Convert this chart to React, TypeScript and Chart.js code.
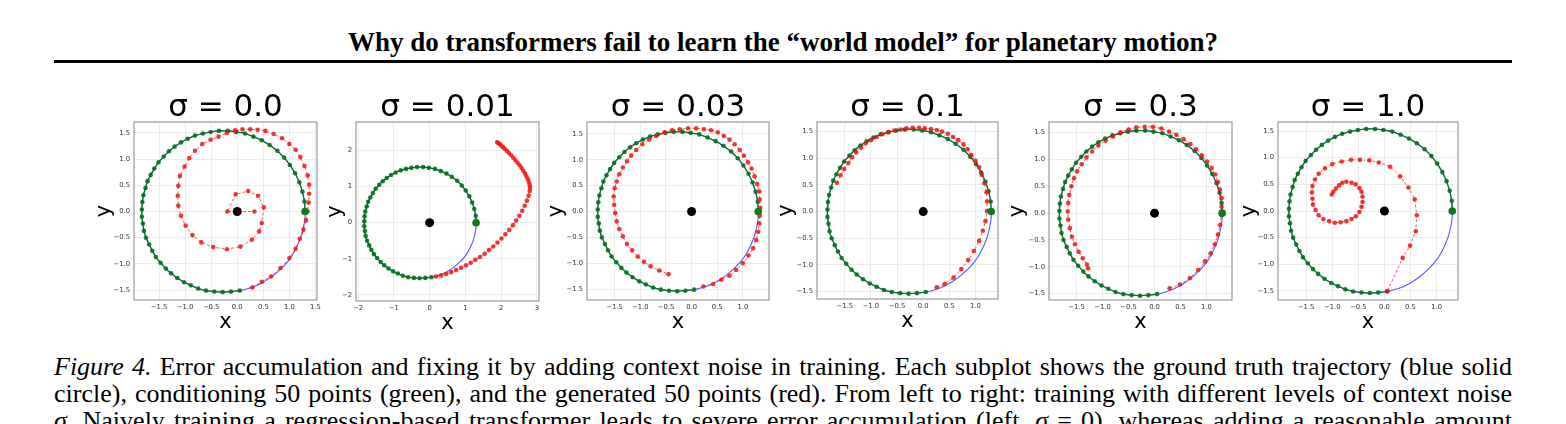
import React, { useEffect, useRef } from 'react';
import Chart from 'chart.js/auto';

type Pt = [number, number];

const sigmaLabels = ['0.0', '0.01', '0.03', '0.1', '0.3', '1.0'];

// conditioning 50 points (green)
const conditioning: Pt[] = [
  [1.30, 0.00], [1.29, 0.19], [1.25, 0.38], [1.19, 0.56], [1.11, 0.73], [1.01, 0.89], [0.90, 1.03], [0.77, 1.16], [0.62, 1.27], [0.47, 1.36],
  [0.31, 1.43], [0.15, 1.49], [-0.02, 1.52], [-0.18, 1.54], [-0.35, 1.54], [-0.51, 1.52], [-0.66, 1.49], [-0.81, 1.45], [-0.95, 1.39], [-1.08, 1.32],
  [-1.20, 1.24], [-1.31, 1.15], [-1.41, 1.05], [-1.51, 0.94], [-1.59, 0.82], [-1.66, 0.70], [-1.72, 0.58], [-1.76, 0.45], [-1.80, 0.31], [-1.82, 0.18],
  [-1.83, 0.04], [-1.83, -0.10], [-1.81, -0.23], [-1.79, -0.37], [-1.75, -0.50], [-1.69, -0.63], [-1.63, -0.75], [-1.56, -0.87], [-1.47, -0.98], [-1.37, -1.09],
  [-1.27, -1.18], [-1.15, -1.27], [-1.02, -1.35], [-0.89, -1.41], [-0.75, -1.47], [-0.60, -1.51], [-0.44, -1.53], [-0.28, -1.54], [-0.12, -1.53], [0.05, -1.51],
];

// the rest of the true orbit (blue), from the last conditioning point back to the start
const truthTail: Pt[] = [
  [0.21, -1.47], [0.38, -1.41], [0.53, -1.33], [0.68, -1.23], [0.82, -1.11], [0.95, -0.98],
  [1.06, -0.83], [1.15, -0.66], [1.22, -0.49], [1.27, -0.30], [1.30, -0.11],
];

const sun: Pt[] = [[0, 0]];

// generated 50 points (red), one list per sigma
const genSigma0: Pt[] = [
  [0.29, -1.45], [0.47, -1.34], [0.65, -1.24], [0.83, -1.08], [1.00, -0.89], [1.12, -0.71], [1.20, -0.52], [1.27, -0.35], [1.32, -0.17], [1.35, 0.00],
  [1.37, 0.17], [1.38, 0.34], [1.38, 0.51], [1.35, 0.69], [1.29, 0.87], [1.21, 1.04], [1.12, 1.18], [1.00, 1.29], [0.86, 1.40], [0.70, 1.48],
  [0.54, 1.54], [0.39, 1.56], [0.25, 1.57], [0.10, 1.57], [-0.04, 1.55], [-0.20, 1.50], [-0.36, 1.43], [-0.51, 1.37], [-0.67, 1.29], [-0.81, 1.16],
  [-0.92, 1.02], [-1.01, 0.86], [-1.10, 0.68], [-1.13, 0.49], [-1.14, 0.30], [-1.13, 0.11], [-1.08, -0.08], [-0.99, -0.27], [-0.86, -0.45], [-0.69, -0.59],
  [-0.46, -0.68], [-0.20, -0.72], [0.06, -0.67], [0.28, -0.54], [0.42, -0.38], [0.47, -0.22], [0.51, 0.08], [0.40, 0.30], [0.21, 0.39], [-0.03, 0.33],
  [-0.19, 0.00], [0.33, 0.00],
];

const genSigma001: Pt[] = [
  [0.18, -1.49], [0.32, -1.46], [0.46, -1.42], [0.60, -1.37], [0.74, -1.31], [0.88, -1.25], [1.02, -1.18], [1.15, -1.11], [1.28, -1.03], [1.41, -0.95],
  [1.54, -0.86], [1.66, -0.76], [1.78, -0.66], [1.90, -0.55], [2.01, -0.44], [2.12, -0.32], [2.23, -0.20], [2.33, -0.07], [2.42, 0.06], [2.51, 0.19],
  [2.59, 0.33], [2.66, 0.47], [2.72, 0.61], [2.77, 0.75], [2.80, 0.88], [2.81, 0.96], [2.80, 1.04], [2.78, 1.12], [2.75, 1.20], [2.71, 1.28],
  [2.67, 1.36], [2.62, 1.44], [2.57, 1.52], [2.52, 1.59], [2.46, 1.66], [2.40, 1.73], [2.34, 1.80], [2.28, 1.87], [2.22, 1.93], [2.16, 1.99],
  [2.10, 2.05], [2.05, 2.10], [2.00, 2.14], [1.96, 2.18], [1.92, 2.21], [1.89, 2.23],
];

const genSigma003: Pt[] = [
  [0.23, -1.45], [0.42, -1.40], [0.58, -1.32], [0.74, -1.24], [0.87, -1.13], [1.00, -1.00], [1.11, -0.85], [1.20, -0.71], [1.26, -0.55], [1.30, -0.39],
  [1.32, -0.23], [1.33, -0.08], [1.34, 0.07], [1.33, 0.23], [1.32, 0.39], [1.28, 0.53], [1.23, 0.68], [1.17, 0.83], [1.10, 0.95], [1.02, 1.08],
  [0.94, 1.19], [0.84, 1.30], [0.74, 1.39], [0.63, 1.46], [0.51, 1.53], [0.38, 1.57], [0.24, 1.59], [0.09, 1.61], [-0.07, 1.61], [-0.23, 1.59],
  [-0.38, 1.57], [-0.53, 1.53], [-0.69, 1.46], [-0.83, 1.39], [-0.96, 1.30], [-1.08, 1.19], [-1.18, 1.08], [-1.26, 0.97], [-1.34, 0.85], [-1.41, 0.72],
  [-1.46, 0.58], [-1.50, 0.45], [-1.52, 0.29], [-1.51, 0.13], [-1.49, -0.03], [-1.46, -0.19], [-1.41, -0.34], [-1.34, -0.48], [-1.26, -0.63], [-1.16, -0.75],
  [-1.05, -0.87], [-0.93, -0.97], [-0.80, -1.06], [-0.63, -1.14], [-0.45, -1.21],
];

const genSigma01: Pt[] = [
  [0.26, -1.42], [0.41, -1.36], [0.58, -1.24], [0.73, -1.08], [0.86, -0.91], [0.97, -0.74], [1.07, -0.55], [1.14, -0.36], [1.19, -0.18], [1.22, 0.01],
  [1.22, 0.19], [1.21, 0.36], [1.17, 0.53], [1.12, 0.69], [1.07, 0.83], [1.00, 0.95], [0.92, 1.06], [0.85, 1.17], [0.77, 1.26], [0.67, 1.34],
  [0.57, 1.40], [0.47, 1.46], [0.36, 1.50], [0.26, 1.53], [0.15, 1.55], [0.03, 1.56], [-0.08, 1.57], [-0.20, 1.57], [-0.32, 1.56], [-0.43, 1.54],
  [-0.55, 1.52], [-0.67, 1.49], [-0.78, 1.45], [-0.89, 1.40], [-1.00, 1.34], [-1.10, 1.28], [-1.19, 1.20], [-1.28, 1.11], [-1.36, 1.02], [-1.43, 0.91],
  [-1.51, 0.80], [-1.58, 0.68], [-1.65, 0.54],
];

const genSigma03: Pt[] = [
  [0.29, -1.40], [0.49, -1.33], [0.68, -1.21], [0.84, -1.06], [0.97, -0.90], [1.08, -0.75], [1.16, -0.58], [1.22, -0.40], [1.26, -0.22], [1.29, -0.04],
  [1.29, 0.12], [1.29, 0.28], [1.26, 0.44], [1.22, 0.58], [1.17, 0.72], [1.10, 0.84], [1.01, 0.96], [0.91, 1.08], [0.80, 1.19], [0.69, 1.29],
  [0.56, 1.38], [0.42, 1.46], [0.28, 1.52], [0.13, 1.58], [-0.03, 1.61], [-0.19, 1.61], [-0.35, 1.60], [-0.50, 1.56], [-0.65, 1.51], [-0.80, 1.43],
  [-0.94, 1.35], [-1.08, 1.26], [-1.20, 1.15], [-1.31, 1.04], [-1.40, 0.91], [-1.49, 0.78], [-1.55, 0.65], [-1.60, 0.50], [-1.64, 0.34], [-1.66, 0.19],
  [-1.67, 0.03], [-1.66, -0.12], [-1.63, -0.28], [-1.59, -0.44], [-1.53, -0.58], [-1.46, -0.72], [-1.38, -0.84], [-1.30, -0.96], [-1.28, -1.03],
];

const genSigma1: Pt[] = [
  [0.06, -1.50], [0.35, -0.88], [0.49, -0.65], [0.60, -0.38], [0.62, -0.08], [0.58, 0.22], [0.46, 0.44], [0.30, 0.65], [0.11, 0.83], [-0.11, 0.91],
  [-0.29, 0.95], [-0.47, 0.96], [-0.64, 0.96], [-0.82, 0.93], [-1.00, 0.88], [-1.14, 0.80], [-1.26, 0.70], [-1.33, 0.59], [-1.38, 0.47], [-1.39, 0.35],
  [-1.38, 0.23], [-1.37, 0.12], [-1.32, 0.02], [-1.26, -0.08], [-1.17, -0.15], [-1.06, -0.19], [-0.95, -0.22], [-0.84, -0.21], [-0.73, -0.19], [-0.63, -0.15],
  [-0.55, -0.10], [-0.48, -0.02], [-0.44, 0.08], [-0.42, 0.17], [-0.42, 0.27], [-0.44, 0.36], [-0.48, 0.43], [-0.55, 0.50], [-0.63, 0.53], [-0.73, 0.55],
  [-0.81, 0.53], [-0.87, 0.48], [-0.93, 0.42], [-0.98, 0.36], [-1.01, 0.31],
];

const generated = [genSigma0, genSigma001, genSigma003, genSigma01, genSigma03, genSigma1];

const ticksHalf = [-1.5, -1.0, -0.5, 0.0, 0.5, 1.0];
const ticksHalfWide = [-1.5, -1.0, -0.5, 0.0, 0.5, 1.0, 1.5];
const ticksUnitX = [-2, -1, 0, 1, 2, 3];
const ticksUnitY = [-2, -1, 0, 1, 2];

// axes box on the page (left, top, right, bottom) and the data limits of each panel
const panels = [
  { box: [134, 122, 317, 300], xlim: [-1.98, 1.53], ylim: [-1.69, 1.71], xt: ticksHalfWide, yt: ticksHalfWide, dec: 1, ylabelGap: 29 },
  { box: [356, 122, 539, 301], xlim: [-2.06, 3.06], ylim: [-2.17, 2.79], xt: ticksUnitX, yt: ticksUnitY, dec: 0, ylabelGap: 20 },
  { box: [587, 122, 769, 300], xlim: [-2.04, 1.51], ylim: [-1.71, 1.73], xt: ticksHalf, yt: ticksHalfWide, dec: 1, ylabelGap: 30 },
  { box: [817, 122, 998, 299], xlim: [-2.03, 1.43], ylim: [-1.64, 1.68], xt: ticksHalf, yt: ticksHalfWide, dec: 1, ylabelGap: 30 },
  { box: [1049, 122, 1232, 300], xlim: [-2.03, 1.49], ylim: [-1.62, 1.70], xt: ticksHalf, yt: ticksHalfWide, dec: 1, ylabelGap: 31 },
  { box: [1278, 122, 1458, 300], xlim: [-2.04, 1.41], ylim: [-1.67, 1.67], xt: ticksHalf, yt: ticksHalfWide, dec: 1, ylabelGap: 28 },
];

const AXIS_W = 50;
const AXIS_H = 40;
const CANVAS_TOP = 80;
const TITLE_SIZE = 31;
const TITLE_LINE = 0.8;

const framePlugin = {
  id: 'frame',
  afterDraw(chart: any) {
    const { ctx, chartArea: a } = chart;
    ctx.save();
    ctx.strokeStyle = '#999';
    ctx.lineWidth = 1.2;
    ctx.strokeRect(a.left, a.top, a.right - a.left, a.bottom - a.top);
    ctx.restore();
  },
};

const OrbitPanel: React.FC<{ index: number }> = ({ index }) => {
  const canvasRef = useRef<HTMLCanvasElement>(null);
  const p = panels[index];
  const [l, t, r, b] = p.box;
  const width = r - l + AXIS_W * 2;
  const height = b - CANVAS_TOP + AXIS_H;

  useEffect(() => {
    if (!canvasRef.current) return;
    const xy = (pts: Pt[]) => pts.map(([x, y]) => ({ x, y }));
    const fmt = (v: any) => Number(v).toFixed(p.dec).replace('-', '\u2212');
    const tickFont = { family: 'DejaVu Sans', size: 6.8 };
    const labelFont = { family: 'DejaVu Sans', size: 21, lineHeight: 1 };
    const grid = { color: '#e6e6e6', lineWidth: 0.8, drawTicks: false };
    const green = 'rgba(0, 112, 22, 0.88)';
    const titleLine = TITLE_SIZE * TITLE_LINE;
    const titleTop = 15.6;

    const chart = new Chart(canvasRef.current, {
      type: 'scatter',
      data: {
        datasets: [
          { data: xy(sun), pointRadius: 4.5, pointBackgroundColor: '#000', pointBorderWidth: 0, order: 0 },
          { data: xy([conditioning[0]]), pointRadius: 3.8, pointBackgroundColor: '#0b7a18', pointBorderWidth: 0, order: 0 },
          {
            data: xy(generated[index]),
            showLine: true,
            borderColor: 'rgba(255, 0, 0, 0.65)',
            borderWidth: 1,
            borderDash: [3, 2],
            pointRadius: 2.3,
            pointBackgroundColor: 'rgba(240, 20, 20, 0.85)',
            pointBorderWidth: 0,
            order: 1,
          },
          {
            data: xy(conditioning),
            showLine: true,
            borderColor: green,
            borderWidth: 1.2,
            pointRadius: 2.3,
            pointBackgroundColor: green,
            pointBorderWidth: 0,
            order: 2,
          },
          {
            data: xy([...conditioning, ...truthTail, conditioning[0]]),
            showLine: true,
            borderColor: 'rgba(30, 30, 255, 0.75)',
            borderWidth: 1.1,
            pointRadius: 0,
            tension: 0.4,
            order: 3,
          },
        ],
      },
      options: {
        responsive: false,
        animation: false,
        events: [],
        layout: { padding: { left: 0, right: AXIS_W, top: 0, bottom: 0 } },
        scales: {
          x: {
            type: 'linear',
            min: p.xlim[0],
            max: p.xlim[1],
            afterBuildTicks: (s: any) => { s.ticks = p.xt.map((v) => ({ value: v })); },
            afterFit: (s: any) => { s.height = AXIS_H; },
            grid,
            border: { display: false },
            ticks: { padding: 3.5, font: tickFont, color: '#333', autoSkip: false, maxRotation: 0, callback: fmt },
            title: { display: true, text: 'x', color: '#000', font: labelFont, padding: { top: 0, bottom: 6.5 } },
          },
          y: {
            type: 'linear',
            min: p.ylim[0],
            max: p.ylim[1],
            afterBuildTicks: (s: any) => { s.ticks = p.yt.map((v) => ({ value: v })); },
            afterFit: (s: any) => { s.width = AXIS_W; },
            grid,
            border: { display: false },
            ticks: { padding: 4, font: tickFont, color: '#333', autoSkip: false, callback: fmt },
            title: { display: true, text: 'y', color: '#000', font: labelFont, padding: { top: AXIS_W - p.ylabelGap - 10.5, bottom: 0 } },
          },
        },
        plugins: {
          legend: { display: false },
          tooltip: { enabled: false },
          title: {
            display: true,
            fullSize: false,
            text: `\u03c3 = ${sigmaLabels[index]}`,
            color: '#000',
            font: { family: 'DejaVu Sans', size: TITLE_SIZE, weight: 'normal', lineHeight: TITLE_LINE },
            padding: { top: titleTop, bottom: t - CANVAS_TOP - titleTop - titleLine },
          },
        },
      },
      plugins: [framePlugin],
    } as any);
    return () => chart.destroy();
  }, [index]);

  return (
    <canvas
      ref={canvasRef}
      width={width}
      height={height}
      style={{ position: 'absolute', left: l - AXIS_W, top: CANVAS_TOP, width, height }}
    />
  );
};

const captionLine: React.CSSProperties = {
  position: 'absolute',
  left: 54,
  width: 1458,
  height: 27,
  fontSize: 26,
  lineHeight: '27px',
  textAlign: 'justify',
  textAlignLast: 'justify',
};

const App: React.FC = () => {
  return (
    <div
      style={{
        position: 'absolute',
        left: 0,
        top: 0,
        width: 1566,
        height: 424,
        overflow: 'hidden',
        background: '#fff',
        color: '#000',
        fontFamily: '"Liberation Serif", "Times New Roman", serif',
      }}
    >
      <div style={{ position: 'absolute', left: 54, top: 29, width: 1458, textAlign: 'center', fontWeight: 'bold', fontSize: 27, lineHeight: '27px' }}>
        Why do transformers fail to learn the “world model” for planetary motion?
      </div>
      <div style={{ position: 'absolute', left: 54, top: 60, width: 1458, height: 3, background: '#000' }} />

      {sigmaLabels.map((_, i) => (
        <OrbitPanel key={i} index={i} />
      ))}

      <div style={{ ...captionLine, top: 353 }}>
        <i>Figure 4.</i> Error accumulation and fixing it by adding context noise in training. Each subplot shows the ground truth trajectory (blue solid
      </div>
      <div style={{ ...captionLine, top: 380 }}>
        circle), conditioning 50 points (green), and the generated 50 points (red). From left to right: training with different levels of context noise
      </div>
      <div style={{ ...captionLine, top: 407 }}>
        <i>σ</i>. Naively training a regression-based transformer leads to severe error accumulation (left, <i>σ</i> = 0), whereas adding a reasonable amount
      </div>
    </div>
  );
};

export default App;
